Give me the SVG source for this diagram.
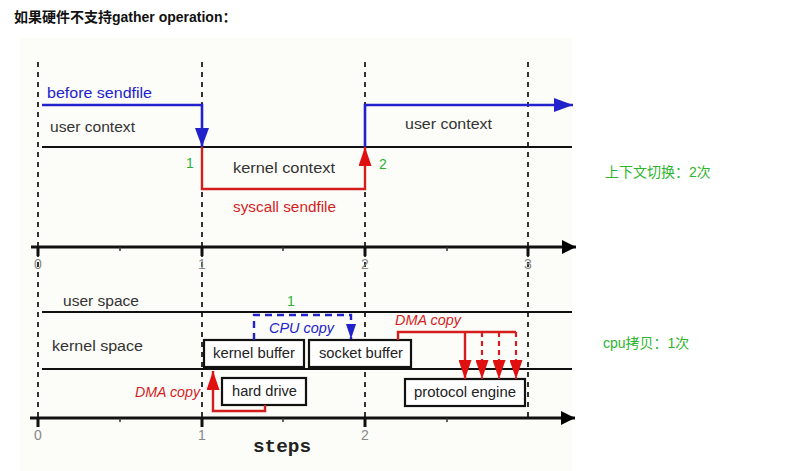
<svg xmlns="http://www.w3.org/2000/svg" width="799" height="471" viewBox="0 0 799 471">
<style>
.lbl{font-family:"Liberation Sans","DejaVu Sans",sans-serif;font-size:14px;fill:#333}
.box{fill:#fff;stroke:#111;stroke-width:2.2}
.boxt{font-family:"Liberation Sans",Arial,sans-serif;font-size:14px;fill:#222}
.num{font-family:"Liberation Sans",sans-serif;font-size:14px;fill:#888}
.green{font-family:"Liberation Sans","Noto Sans CJK SC",sans-serif;font-size:14px;fill:#2db52d}
.dash{stroke:#333;stroke-width:2;stroke-dasharray:5 5;fill:none}
.hline{stroke:#111;stroke-width:2.2;fill:none}
.axis{stroke:#111;stroke-width:3;fill:none}
.tick{stroke:#111;stroke-width:3}
.mtick{stroke:#333;stroke-width:1.5}
.blue{stroke:#2222cc;stroke-width:2.6;fill:none}
.red{stroke:#d41e1e;stroke-width:2.4;fill:none}
.bluedash{stroke:#2222cc;stroke-width:2.4;stroke-dasharray:7 5;fill:none}
.reddash{stroke:#d41e1e;stroke-width:2.2;stroke-dasharray:5 4;fill:none}
.bt{font-family:"Liberation Sans",sans-serif;font-size:14px;fill:#2222cc}
.rt{font-family:"Liberation Sans",sans-serif;font-size:14px;fill:#d41e1e}
</style>
<defs>
<marker id="ab" markerUnits="userSpaceOnUse" markerWidth="19" markerHeight="14" refX="19" refY="7" orient="auto"><path d="M0,0 L19,7 L0,14 z" fill="#2222cc"/></marker>
<marker id="abs" markerUnits="userSpaceOnUse" markerWidth="15" markerHeight="10" refX="15" refY="5" orient="auto"><path d="M0,0 L15,5 L0,10 z" fill="#2222cc"/></marker>
<marker id="ar" markerUnits="userSpaceOnUse" markerWidth="19" markerHeight="13" refX="19" refY="6.5" orient="auto"><path d="M0,0 L19,6.5 L0,13 z" fill="#e01010"/></marker>
<marker id="ak" markerUnits="userSpaceOnUse" markerWidth="14" markerHeight="14" refX="14" refY="7" orient="auto"><path d="M0,0 L14,7 L0,14 z" fill="#000"/></marker>
</defs>
<rect width="799" height="471" fill="#fff"/>
<rect x="20" y="38" width="552" height="433" fill="#fcfcf8"/>
<text x="14" y="22" font-family="'Liberation Sans','Noto Sans CJK SC',sans-serif" font-size="14" font-weight="bold" fill="#111">如果硬件不支持gather operation：</text>

<g id="grid">
<line class="dash" x1="38" y1="62" x2="38" y2="418"/>
<line class="dash" x1="202" y1="62" x2="202" y2="418"/>
<line class="dash" x1="365" y1="62" x2="365" y2="418"/>
<line class="dash" x1="528" y1="62" x2="528" y2="418"/>
<line class="hline" x1="42" y1="147" x2="572" y2="147"/>
<line class="hline" x1="42" y1="312" x2="572" y2="312"/>
<line class="hline" x1="42" y1="369" x2="572" y2="369"/>
</g>

<g id="axis-top">
<line class="axis" x1="31" y1="247" x2="576" y2="247" marker-end="url(#ak)"/>
<line class="tick" x1="38" y1="247" x2="38" y2="256"/>
<line class="tick" x1="202" y1="247" x2="202" y2="256"/>
<line class="tick" x1="365" y1="247" x2="365" y2="256"/>
<line class="tick" x1="528" y1="247" x2="528" y2="256"/>
<line class="mtick" x1="120" y1="247" x2="120" y2="251"/>
<line class="mtick" x1="283" y1="247" x2="283" y2="251"/>
<line class="mtick" x1="447" y1="247" x2="447" y2="251"/>
<text class="num" x="38" y="269" text-anchor="middle">0</text>
<text class="num" x="202" y="269" text-anchor="middle">1</text>
<text class="num" x="365" y="269" text-anchor="middle">2</text>
<text class="num" x="528" y="269" text-anchor="middle">3</text>
</g>

<g id="axis-bottom">
<line class="axis" x1="30" y1="418" x2="575" y2="418" marker-end="url(#ak)"/>
<line class="tick" x1="38" y1="418" x2="38" y2="427"/>
<line class="tick" x1="202" y1="418" x2="202" y2="427"/>
<line class="tick" x1="365" y1="418" x2="365" y2="427"/>
<line class="mtick" x1="120" y1="418" x2="120" y2="422"/>
<line class="mtick" x1="283" y1="418" x2="283" y2="422"/>
<line class="mtick" x1="447" y1="418" x2="447" y2="422"/>
<text class="num" x="38" y="440" text-anchor="middle">0</text>
<text class="num" x="202" y="440" text-anchor="middle">1</text>
<text class="num" x="365" y="440" text-anchor="middle">2</text>
<text x="253" y="452" font-family="'Liberation Mono','Courier New',monospace" font-size="19" font-weight="bold" fill="#222" textLength="58" lengthAdjust="spacingAndGlyphs">steps</text>
</g>

<g id="labels">
<text class="lbl" x="50" y="132" textLength="85" lengthAdjust="spacingAndGlyphs">user context</text>
<text class="lbl" x="405" y="129" textLength="87" lengthAdjust="spacingAndGlyphs">user context</text>
<text class="lbl" x="233" y="173" textLength="102" lengthAdjust="spacingAndGlyphs">kernel context</text>
<text class="lbl" x="63" y="306" textLength="76" lengthAdjust="spacingAndGlyphs">user space</text>
<text class="lbl" x="52" y="351" textLength="91" lengthAdjust="spacingAndGlyphs">kernel space</text>
<text class="bt" x="47" y="98" textLength="105" lengthAdjust="spacingAndGlyphs">before sendfile</text>
<text class="rt" x="233" y="212" textLength="103" lengthAdjust="spacingAndGlyphs">syscall sendfile</text>
<text class="bt" x="269" y="333" font-style="italic" textLength="65" lengthAdjust="spacingAndGlyphs">CPU copy</text>
<text class="rt" x="395" y="325" font-style="italic" textLength="66" lengthAdjust="spacingAndGlyphs">DMA copy</text>
<text class="rt" x="135" y="397" font-style="italic" textLength="65" lengthAdjust="spacingAndGlyphs">DMA copy</text>
<text class="green" x="186" y="168">1</text>
<text class="green" x="379" y="169">2</text>
<text class="green" x="287" y="306">1</text>
<text class="green" x="605" y="177">上下文切换：2次</text>
<text class="green" x="603" y="348">cpu拷贝：1次</text>
</g>

<g id="kernel-buffer">
<rect class="box" x="204" y="340" width="100" height="27"/>
<text class="boxt" x="213" y="358" textLength="82" lengthAdjust="spacingAndGlyphs">kernel buffer</text>
</g>
<g id="socket-buffer">
<rect class="box" x="309" y="340" width="102" height="27"/>
<text class="boxt" x="319" y="358" textLength="84" lengthAdjust="spacingAndGlyphs">socket buffer</text>
</g>
<g id="hard-drive">
<rect class="box" x="222" y="378" width="84" height="27"/>
<text class="boxt" x="232" y="396" textLength="65" lengthAdjust="spacingAndGlyphs">hard drive</text>
</g>
<g id="protocol-engine">
<rect class="box" x="405" y="379" width="120" height="27"/>
<text class="boxt" x="414" y="397" textLength="102" lengthAdjust="spacingAndGlyphs">protocol engine</text>
</g>

<g id="connectors">
<path class="blue" d="M42,105 H202 V147" marker-end="url(#ab)"/>
<path class="red" d="M202,147 V189 H365 V147" marker-end="url(#ar)"/>
<path class="blue" d="M365,147 V105 H573" marker-end="url(#ab)"/>
<path class="bluedash" d="M254,340 V315 H351 V339" marker-end="url(#abs)"/>
<path class="red" d="M398,340 V332 H516"/>
<path class="red" d="M465,332 V379" marker-end="url(#ar)"/>
<path class="reddash" d="M482,332 V379" marker-end="url(#ar)"/>
<path class="reddash" d="M499,332 V379" marker-end="url(#ar)"/>
<path class="reddash" d="M516,332 V379" marker-end="url(#ar)"/>
<path class="red" d="M265,405 V411 H213 V371" marker-end="url(#ar)"/>
</g>
</svg>
